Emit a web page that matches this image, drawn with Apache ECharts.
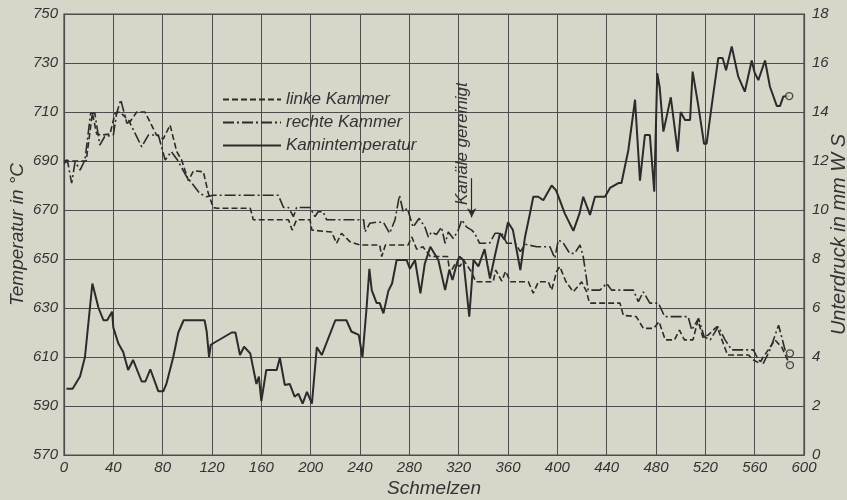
<!DOCTYPE html>
<html>
<head>
<meta charset="utf-8">
<script src="https://cdn.jsdelivr.net/npm/echarts/dist/echarts.min.js"></script>
<style>
  html, body { margin: 0; padding: 0; background: #d7d6c8; }
  #chart { width: 847px; height: 500px; }
</style>
</head>
<body>
<div id="chart"></div>
<script>
// Schmelzen (heat number) vs. value
// Unterdruck in mm W S, linke Kammer (dashed)
const linkeKammer = [
  [0,11.9],[3,12.0],[18,12.0],[23,13.95],[26.5,13.1],[30.5,13.06],[37.3,13.1],[41.4,13.95],[45.4,14.0],
  [53.5,13.6],[59,14.0],[65.7,14.0],[75,13.06],[80.5,12.9],[86,13.47],[91.4,12.38],[95.4,12.04],
  [100.8,11.2],[105,11.6],[113,11.56],[117,10.68],[121,10.1],[124,10.07],[151,10.07],[153.5,9.6],
  [182,9.6],[185,9.18],[188.6,9.6],[199.5,9.6],[201,9.18],[217,9.1],[221,8.64],[225,9.05],[232,8.7],
  [240,8.57],[256,8.57],[257.6,8.1],[260.6,8.57],[279,8.57],[282,8.9],[286,8.4],[291,8.5],[297,8.1],
  [311,8.1],[313,7.4],[317,7.8],[321,7.7],[324,7.96],[330,7.5],[334,7.07],[348,7.07],[350,7.55],
  [355,7.1],[358,7.5],[362,7.07],[376.5,7.07],[380.5,6.6],[384.6,7.07],[392.7,7.07],[395.4,6.73],
  [399.5,7.5],[402,7.69],[407,7.07],[413,6.66],[419.7,7.07],[423.8,6.66],[426,6.2],[450.8,6.2],
  [453.5,5.7],[464,5.65],[469.7,5.17],[478,5.17],[482.5,5.44],[487.5,4.7],[495,4.7],[499,5.1],
  [503,4.7],[510,4.7],[514,5.5],[518,4.8],[522.4,4.9],[529.5,5.24],[538,4.08],[555,4.08],[559,3.88],
  [564,3.74],[567,4.0],[571,4.29],[576.4,4.7],[582,4.4],[588.6,3.67]
];
// Unterdruck in mm W S, rechte Kammer (dash-dot)
const rechteKammer = [
  [0,12.0],[2.7,12.04],[6.2,11.1],[9,11.97],[13,11.63],[17,12.04],[21.6,13.95],[25,13.95],[29,12.65],
  [33,13.0],[40,13.06],[42.7,13.95],[46,14.5],[51,13.54],[53,13.6],[63,12.58],[68.4,13.06],
  [76.5,13.06],[82,12.04],[87,12.38],[92,12.04],[99.4,11.36],[103.6,11.1],[110,10.68],[115.7,10.54],
  [121,10.6],[173.8,10.6],[178,10.1],[182,10.1],[186,9.73],[188.6,10.1],[199.5,10.1],[203.5,9.73],
  [206,9.93],[210,9.93],[213,9.6],[243,9.6],[244,9.1],[248,9.46],[253.5,9.5],[259,9.5],[264,9.05],
  [268.4,9.6],[272,10.6],[275,9.93],[278.4,10.07],[283,9.3],[288,9.66],[292.7,9.3],[295.4,8.9],
  [298,9.1],[302,9.0],[306,9.3],[309,8.64],[311.6,9.1],[315.7,8.84],[319.7,9.18],[322.5,9.6],
  [326.5,9.3],[330.6,9.18],[333,9.05],[337,8.64],[345,8.64],[349.5,9.05],[355,9.05],[359,8.64],
  [366,8.64],[370,8.3],[374,8.6],[383.2,8.5],[394,8.5],[398,8.03],[400.8,8.78],[405,8.64],
  [410,8.23],[414,8.23],[418.4,8.57],[421,8.1],[425,6.73],[434.6,6.73],[440,7.0],[444,6.73],
  [461.6,6.73],[465.7,6.26],[469.7,6.66],[475,6.2],[482,6.2],[487,5.65],[506,5.65],[509,5.1],
  [514.5,5.58],[519,4.83],[524,4.7],[530.5,5.24],[536,4.7],[541.4,4.29],[559,4.29],[563,3.88],
  [567,3.74],[572.4,4.29],[579.4,5.3],[584.6,4.29],[588.6,4.15]
];
// Kamintemperatur in °C (solid)
const kamintemperatur = [
  [2,597],[7,597],[13,602],[17,610],[23,640],[28,630],[32,625],[35,625],[39,628.5],[40,622],
  [44,615.6],[48,612],[52,604.7],[56,608.8],[63,600],[66,600],[70,605],[76.5,596],[80.5,596],
  [83,599],[88.6,610],[92.7,620],[94,620.7],[97,625],[114,625],[115.7,620.4],[117.6,610],[119,615],
  [136,620],[139,620],[142.7,610.8],[146,614.2],[151,611.5],[156,599],[158,602],[160,592],
  [164,604.7],[172.5,604.7],[175,609.7],[179,598.6],[183,599],[187,593.8],[190,595],[193.5,591],
  [197,595.8],[201,591],[205,614],[209,610.8],[220,625],[229,625],[233,620.4],[239,619],[242,610],
  [245.4,630.5],[247.6,646],[249.5,637.3],[253.5,632],[256,632],[259,627.8],[263,637],[266,640],
  [269.7,649.6],[277.8,649.6],[280.5,646],[284.6,649.6],[289,636],[292.5,648],[297,655],
  [303.5,649.6],[309,637.3],[312.4,645.5],[315,641.4],[318.4,648],[320.5,651],[323.8,649.6],
  [328.6,626.5],[332,649.6],[336,647],[341,654],[345.4,642],[349.5,651.6],[353.5,660.5],[357,658],
  [360,665],[364,661.8],[370,645.5],[373.8,659],[377.8,668.6],[380.5,675.4],[384.6,675.4],
  [388.6,674],[395.4,680],[399,678],[402,674],[406,668.6],[413,661.5],[418,668.6],[421,675.4],
  [426.5,668],[430.5,675.4],[438.6,675.4],[442.7,679],[449.5,681],[452,681],[457.6,694.5],
  [463,715],[467,682],[471,700.6],[475,700.6],[478.6,677.5],[481,725.8],[483,720],[486,702],
  [492,716],[497.6,693.8],[500,710],[503.5,706.7],[507.6,706.7],[509.7,726.5],[514,713.5],
  [519,697],[521,697],[525,712],[530.5,732],[534,732],[536.8,727],[541.4,736.7],[546.7,724.4],
  [552,718.3],[557.6,731],[560,726],[563,723],[568.4,731],[572.4,720.3],[578,712.4],[580.5,712.4],
  [583.2,716.3],[588,716.5]
];
// Channel cleaning event: Schmelze number and arrow span in °C
const reinigungX = 330.6;
const reinigungPfeil = [683, 667];

const bg = '#d7d6c8';
const ink = '#2b2b2b';
const gridInk = '#4d4d4d';
const fontFam = "'Liberation Sans', 'DejaVu Sans', sans-serif";

const lastOf = arr => arr[arr.length - 1];

const chart = echarts.init(document.getElementById('chart'), null, { renderer: 'canvas' });

const labelStyle = { color: '#333', fontStyle: 'italic', fontFamily: fontFam, fontSize: 15 };
const nameStyle = size => ({ color: '#333', fontStyle: 'italic', fontFamily: fontFam, fontSize: size });

// ring marker at the last reading of each line
const endMarker = (data, axis) => ({
  type: 'scatter', yAxisIndex: axis, symbol: 'circle', symbolSize: 7, z: 6,
  itemStyle: { color: bg, borderColor: ink, borderWidth: 1.4 },
  data: [data], silent: true
});

chart.setOption({
  animation: false,
  backgroundColor: bg,
  grid: {
    left: 64, right: 43, top: 14, bottom: 45, outerBoundsMode: 'none', containLabel: false,
    show: true, borderColor: gridInk, borderWidth: 1.2
  },
  legend: {
    orient: 'vertical', left: 217, top: 86,
    itemWidth: 58, itemHeight: 14, itemGap: 6,
    itemStyle: { opacity: 0 },
    textStyle: { color: '#333', fontStyle: 'italic', fontFamily: fontFam, fontSize: 17 },
    data: ['linke Kammer', 'rechte Kammer', 'Kamintemperatur']
  },
  xAxis: {
    type: 'value', min: 0, max: 600, interval: 40,
    name: 'Schmelzen', nameLocation: 'middle', nameGap: 24, nameMoveOverlap: false, nameTextStyle: nameStyle(19),
    axisLine: { show: true, lineStyle: { color: gridInk, width: 1.2 } },
    axisTick: { show: false },
    axisLabel: Object.assign({ margin: 5 }, labelStyle),
    splitLine: { show: true, lineStyle: { color: gridInk, width: 1 } }
  },
  yAxis: [
    {
      type: 'value', min: 570, max: 750, interval: 20, position: 'left',
      name: 'Temperatur in °C', nameLocation: 'middle', nameGap: 37, nameRotate: 90, nameMoveOverlap: false,
      nameTextStyle: nameStyle(19),
      axisLine: { show: true, lineStyle: { color: gridInk, width: 1.2 } },
      axisTick: { show: false },
      axisLabel: Object.assign({ margin: 6 }, labelStyle),
      splitLine: { show: true, lineStyle: { color: gridInk, width: 1 } }
    },
    {
      type: 'value', min: 0, max: 18, interval: 2, position: 'right',
      name: 'Unterdruck in mm W S', nameLocation: 'middle', nameGap: 25, nameRotate: 90, nameMoveOverlap: false,
      nameTextStyle: nameStyle(20),
      axisLine: { show: true, lineStyle: { color: gridInk, width: 1.2 } },
      axisTick: { show: false },
      axisLabel: Object.assign({ margin: 8 }, labelStyle),
      splitLine: { show: false }
    }
  ],
  series: [
    {
      name: 'linke Kammer', type: 'line', yAxisIndex: 1, symbol: 'none',
      lineStyle: { color: ink, width: 1.6, type: [6, 3] }, itemStyle: { color: ink },
      data: linkeKammer, z: 3
    },
    {
      name: 'rechte Kammer', type: 'line', yAxisIndex: 1, symbol: 'none',
      lineStyle: { color: ink, width: 1.6, type: [11, 3, 2, 3] }, itemStyle: { color: ink },
      data: rechteKammer, z: 3
    },
    {
      name: 'Kamintemperatur', type: 'line', yAxisIndex: 0, symbol: 'none',
      lineStyle: { color: ink, width: 2 }, itemStyle: { color: ink },
      data: kamintemperatur, z: 4,
      markLine: {
        silent: true, symbol: ['none', 'arrow'], symbolSize: [7, 9],
        lineStyle: { color: ink, width: 1.2, type: 'solid' },
        label: { show: false },
        data: [[{ coord: [reinigungX, reinigungPfeil[0]] }, { coord: [reinigungX, reinigungPfeil[1]] }]]
      }
    },
    endMarker(lastOf(linkeKammer), 1),
    endMarker(lastOf(rechteKammer), 1),
    endMarker(lastOf(kamintemperatur), 0)
  ]
});

// rotated note beside the arrow
const notePos = chart.convertToPixel({ xAxisIndex: 0, yAxisIndex: 0 }, [reinigungX - 1, reinigungPfeil[0] - 11]);
chart.setOption({
  graphic: [{
    type: 'text', x: notePos[0], y: notePos[1], rotation: Math.PI / 2,
    style: { text: 'Kanäle gereinigt', fill: '#333', font: 'italic 17px ' + fontFam, textAlign: 'left', textVerticalAlign: 'bottom' }
  }]
});
</script>
</body>
</html>
